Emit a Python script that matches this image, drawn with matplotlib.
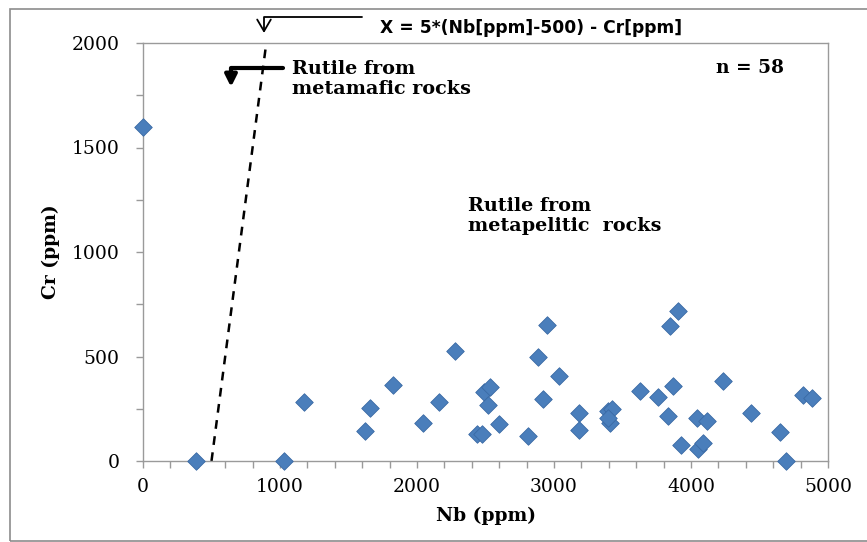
import matplotlib
matplotlib.use("Agg")
import matplotlib.pyplot as plt
from matplotlib.patches import Rectangle
import numpy as np

# Data
nb_ppm = [0, 385, 1030, 1175, 1660, 1620, 1825, 2044, 2160, 2277,
          2438, 2478, 2490, 2533, 2518, 2600, 2810, 2883, 2949, 2920,
          3036, 3182, 3182, 3394, 3423, 3409, 3394, 3628, 3759, 3869,
          3847, 3905, 3832, 3927, 4044, 4117, 4051, 4088, 4234, 4438,
          4650, 4693, 4818, 4883]
cr_ppm = [1600, 0, 0, 283, 255, 143, 364, 182, 282, 524,
          130, 130, 330, 354, 266, 175, 118, 498, 651, 297,
          407, 232, 148, 240, 249, 182, 205, 335, 306, 359,
          646, 718, 215, 77, 206, 191, 57, 86, 383, 230,
          139, 0, 316, 301]
boundary_nb = [500, 900]
boundary_cr = [0, 2000]
x_ticks = [0, 1000, 2000, 3000, 4000, 5000]
y_ticks = [0, 500, 1000, 1500, 2000]

W, H = 867, 542
fig = plt.figure(figsize=(W / 100, H / 100), dpi=100)
ax = fig.add_axes([143 / W, 1 - 461 / H, (828 - 143) / W, (461 - 43) / H])

serif = "DejaVu Serif"
gray = "#9a9a9a"

ax.plot(boundary_nb, boundary_cr, color="black", lw=1.8, ls=(0, (3.5, 3)), zorder=2)
ax.scatter(nb_ppm, cr_ppm, marker="D", s=80, color="#4a7ebb", edgecolor="#3a6aa5",
           linewidth=0.6, zorder=3, clip_on=False)

ax.set_xlim(0, 5000)
ax.set_ylim(0, 2000)
ax.set_xticks(x_ticks)
ax.set_yticks(y_ticks)
ax.set_xticks(np.arange(0, 5001, 200), minor=True)
ax.set_yticks(np.arange(0, 2001, 250), minor=True)
ax.set_xticklabels([str(v) for v in x_ticks], fontfamily=serif, fontsize=13.5)
ax.set_yticklabels([str(v) for v in y_ticks], fontfamily=serif, fontsize=13.5)
ax.tick_params(which="both", direction="out", length=5, width=1, color=gray)
ax.tick_params(axis="y", which="major", pad=12)
ax.tick_params(axis="x", which="major", pad=7)
for sp in ax.spines.values():
    sp.set_color(gray)
    sp.set_linewidth(1)

ax.set_xlabel("Nb (ppm)", fontfamily=serif, fontweight="bold", fontsize=13.5, labelpad=8)
ax.set_ylabel("Cr (ppm)", fontfamily=serif, fontweight="bold", fontsize=13.5, labelpad=8)

# Texts
fig.text(380 / W, 1 - 28 / H, "X = 5*(Nb[ppm]-500) - Cr[ppm]", fontfamily="DejaVu Sans",
         fontweight="bold", fontsize=12.3, va="center", ha="left")
fig.text(292 / W, 1 - 79 / H, "Rutile from\nmetamafic rocks", fontfamily=serif,
         fontweight="bold", fontsize=13.8, va="center", ha="left", linespacing=1.15)
fig.text(716 / W, 1 - 68 / H, "n = 58", fontfamily=serif, fontweight="bold",
         fontsize=13.4, va="center", ha="left")
fig.text(468 / W, 1 - 216 / H, "Rutile from\nmetapelitic  rocks", fontfamily=serif,
         fontweight="bold", fontsize=13.8, va="center", ha="left", linespacing=1.15)

# Frame and arrows
fig.patches.append(Rectangle((10, 1), 870, 532, transform=None, fill=False,
                             edgecolor="#8c8c8c", lw=1.2))
ax.annotate("", xy=(264, H - 33), xycoords="figure pixels",
            xytext=(362, H - 17), textcoords="figure pixels",
            arrowprops=dict(arrowstyle="->,head_length=0.6,head_width=0.35", color="black", lw=1.3,
                            connectionstyle="angle,angleA=0,angleB=90,rad=0",
                            shrinkA=0, shrinkB=0, mutation_scale=14),
            annotation_clip=False)
ax.annotate("", xy=(231, H - 87), xycoords="figure pixels",
            xytext=(283, H - 68), textcoords="figure pixels",
            arrowprops=dict(arrowstyle="-|>,head_length=0.5,head_width=0.25", color="black", lw=3,
                            connectionstyle="angle,angleA=0,angleB=90,rad=0",
                            shrinkA=0, shrinkB=0, mutation_scale=14),
            annotation_clip=False)

fig.savefig("out.png", dpi=100)
